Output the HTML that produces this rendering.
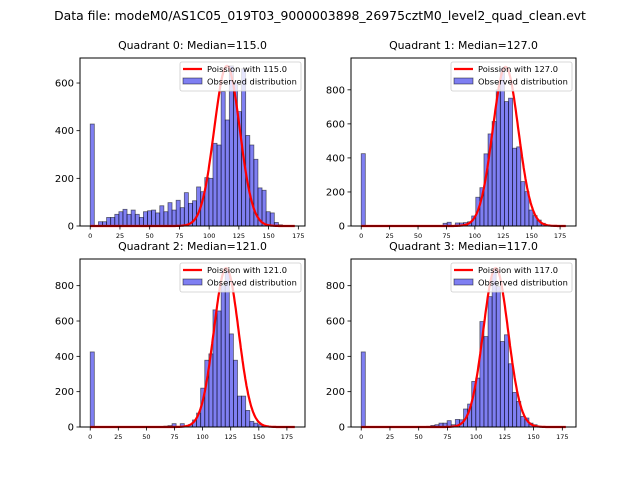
<!DOCTYPE html>
<html><head><meta charset="utf-8"><style>
body{margin:0;background:#fff;}
svg{display:block;font-family:"DejaVu Sans","Liberation Sans",sans-serif;}
</style></head><body>
<svg id="fig" width="640" height="480" viewBox="0 0 640 480">
<rect width="640" height="480" fill="#fff"/>
<text x="320" y="20" font-size="12.4" text-anchor="middle">Data file: modeM0/AS1C05_019T03_9000003898_26975cztM0_level2_quad_clean.evt</text>
</svg>
<script>
// Quadrant 0
const q0Counts=[428,0,18,18,36,36,49,60,70,49,67,49,36,60,64,67,55,85,60,98,67,108,77,140,95,106,164,144,203,200,347,340,564,445,672,600,480,660,380,340,280,160,150,60,55,15,5,0,0,0];
// Quadrant 1
const q1Counts=[425,0,0,0,0,0,0,0,0,0,0,0,0,0,0,0,0,0,0,0,16,22,0,18,18,20,25,59,169,225,424,541,614,800,927,731,751,457,465,261,202,94,61,35,16,5,0,0,0,0];
// Quadrant 2
const q2Counts=[425,0,0,0,0,0,0,0,0,0,0,0,0,0,0,0,0,0,5,8,19,0,19,0,13,40,79,220,378,414,663,657,800,880,527,378,175,175,94,32,22,13,5,0,0,0,0,0,0,0];
// Quadrant 3
const q3Counts=[425,0,0,0,0,0,0,0,0,0,0,0,0,0,0,0,4,9,13,22,22,36,13,43,41,102,130,258,277,597,512,738,890,795,484,522,358,196,145,60,51,22,13,5,0,0,0,0,0,0];
const medians=[115,127,121,117];
const curvePeaks=[672,935,900,900];
const dataMax=[172,180,182,178];
const yMax=[705,987,951,951];
const yTicks=[[0,200,400,600],[0,200,400,600,800],[0,200,400,600,800],[0,200,400,600,800]];
const xTicks=[0,25,50,75,100,125,150,175];
const allCounts=[q0Counts,q1Counts,q2Counts,q3Counts];

const NS="http://www.w3.org/2000/svg";
const svg=document.getElementById('fig');
function mk(tag,attrs,parent){const e=document.createElementNS(NS,tag);for(const k in attrs)e.setAttribute(k,attrs[k]);(parent||svg).appendChild(e);return e;}
const boxes=[[80,58],[351,58],[80,259],[351,259]];
const W=225,H=168;
for(let q=0;q<4;q++){
  const [x0,y0]=boxes[q];
  const g=mk('g',{});
  
  
  const xmin=-dataMax[q]*0.05,xmaxv=dataMax[q]*1.05;
  const xs=v=>x0+(v-xmin)/(xmaxv-xmin)*W;
  const ys=v=>y0+H-v/yMax[q]*H;
  const counts=allCounts[q];const bw=dataMax[q]/counts.length;
  counts.forEach((c,i)=>{if(c<=0)return;
    const r=mk('rect',{x:xs(i*bw),y:ys(c),width:xs(bw)-xs(0),height:ys(0)-ys(c),fill:'rgba(0,0,230,0.5)',stroke:'rgba(0,0,0,0.55)','stroke-width':0.8},g);
    
    
  });
  const lam=medians[q],sd=Math.sqrt(lam);let d='';
  for(let v=0;v<=dataMax[q];v+=0.5){const y=curvePeaks[q]*Math.exp(-(v-lam)*(v-lam)/(2*sd*sd));d+=(d?'L':'M')+xs(v).toFixed(1)+','+ys(y).toFixed(1);}
  const p=mk('path',{d:d,fill:'none',stroke:'#f00','stroke-width':2.2},g);
  
  
  const fr=mk('rect',{x:x0,y:y0,width:W,height:H,fill:'none',stroke:'#000','stroke-width':1},g);
  
  
  xTicks.forEach(t=>{const X=xs(t);mk('line',{x1:X,x2:X,y1:y0+H,y2:y0+H+3.5,stroke:'#000','stroke-width':0.8},g);
    const tx=mk('text',{x:X,y:y0+H+12,'font-size':6.5,'text-anchor':'middle'},g);tx.textContent=t;
    
    });
  yTicks[q].forEach(t=>{const Y=ys(t);mk('line',{x1:x0-3.5,x2:x0,y1:Y,y2:Y,stroke:'#000','stroke-width':0.8},g);
    const tx=mk('text',{x:x0-6,y:Y+3.5,'font-size':10,'text-anchor':'end'},g);tx.textContent=t;
    
    });
  const ti=mk('text',{x:x0+W/2,y:y0-9,'font-size':10.9,'text-anchor':'middle'},g);
  ti.textContent='Quadrant '+q+': Median='+medians[q].toFixed(1);
  
  
  const lg=mk('g',{},g);
  
  
  const lx=x0+W-125,ly=y0+4;
  mk('rect',{x:lx,y:ly,width:121,height:29,fill:'rgba(255,255,255,0.8)',stroke:'#ccc','stroke-width':0.8,rx:2},lg);
  mk('line',{x1:lx+3,x2:lx+22,y1:ly+7,y2:ly+7,stroke:'#f00','stroke-width':2.2},lg);
  const t1=mk('text',{x:lx+27,y:ly+10,'font-size':8.3},lg);t1.textContent='Poission with '+medians[q].toFixed(1);
  
  
  mk('rect',{x:lx+3,y:ly+16,width:19,height:6,fill:'rgba(0,0,230,0.5)',stroke:'rgba(0,0,0,0.55)','stroke-width':0.8},lg);
  const t2=mk('text',{x:lx+27,y:ly+22.5,'font-size':8.3},lg);t2.textContent='Observed distribution';
  
  
}
</script>
</body></html>
